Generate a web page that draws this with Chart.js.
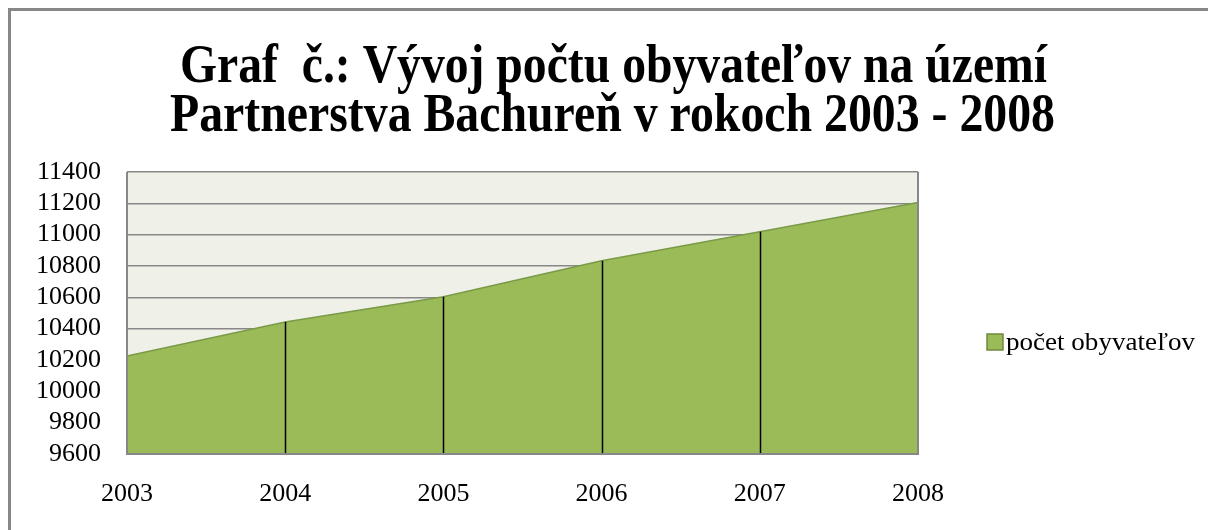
<!DOCTYPE html>
<html>
<head>
<meta charset="utf-8">
<script src="https://cdn.jsdelivr.net/npm/chart.js@4"></script>
<style>
  html, body { margin: 0; padding: 0; background: #fff; }
  #wrap { width: 1208px; height: 530px; position: relative; }
</style>
</head>
<body>
<div id="wrap"><canvas id="myChart" width="1208" height="530"></canvas></div>
<script>
// data
var years = ["2003", "2004", "2005", "2006", "2007", "2008"];
var population = [10225, 10443, 10604, 10833, 11019, 11205];
var seriesName = "počet obyvateľov";
var titleLines = ["Graf  č.: Vývoj počtu obyvateľov na území", "Partnerstva Bachureň v rokoch 2003 - 2008"];

var serif = "'Liberation Serif', 'Times New Roman', serif";

// frame, plot background, drop lines, title and legend
var decor = {
    id: 'decor',
    beforeDraw: function(chart) {
        var c = chart.ctx, a = chart.chartArea;
        c.save();
        c.fillStyle = '#fff';
        c.fillRect(0, 0, chart.width, chart.height);
        c.strokeStyle = '#878787';
        c.lineWidth = 3;
        c.beginPath();
        c.moveTo(9.5, chart.height + 5);
        c.lineTo(9.5, 9.5);
        c.lineTo(chart.width + 5, 9.5);
        c.stroke();
        c.fillStyle = '#eff1e9';
        c.fillRect(a.left, a.top, a.right - a.left, a.bottom - a.top);
        c.restore();
    },
    afterDatasetsDraw: function(chart) {
        var c = chart.ctx, a = chart.chartArea;
        var meta = chart.getDatasetMeta(0);
        c.save();
        c.strokeStyle = '#000';
        c.lineWidth = 1.5;
        meta.data.forEach(function(p, i) {
            if (i === 0 || i === meta.data.length - 1) return;
            c.beginPath();
            c.moveTo(Math.round(p.x) + 0.5, p.y);
            c.lineTo(Math.round(p.x) + 0.5, a.bottom);
            c.stroke();
        });
        // plot frame
        c.strokeStyle = '#878787';
        c.lineWidth = 2;
        c.beginPath();
        c.moveTo(a.left, a.top);
        c.lineTo(a.left, a.bottom);
        c.lineTo(a.right, a.bottom);
        c.lineTo(a.right, a.top);
        c.stroke();
        c.restore();
    },
    afterDraw: function(chart) {
        var c = chart.ctx;
        c.save();
        // title, horizontally condensed like the original
        c.fillStyle = '#000';
        c.font = 'bold 55px ' + serif;
        c.textBaseline = 'alphabetic';
        var targets = [[180, 1047, 82], [170, 1055, 131]];
        titleLines.forEach(function(t, i) {
            var w = c.measureText(t).width;
            var tw = targets[i][1] - targets[i][0];
            c.save();
            c.translate(targets[i][0], targets[i][2]);
            c.scale(tw / w, 1);
            c.fillText(t, 0, 0);
            c.restore();
        });
        // legend
        var ds = chart.data.datasets[0];
        c.fillStyle = ds.backgroundColor;
        c.fillRect(987, 334, 16, 16);
        c.strokeStyle = '#71893f';
        c.lineWidth = 1.5;
        c.strokeRect(987, 334, 16, 16);
        c.fillStyle = '#000';
        c.font = '25px ' + serif;
        c.textBaseline = 'middle';
        var lw = c.measureText(ds.label).width;
        c.save();
        c.translate(1006, 343);
        c.scale(189 / lw, 1);
        c.fillText(ds.label, 0, 0);
        c.restore();
        c.restore();
    }
};

var ctx = document.getElementById("myChart").getContext('2d');
var myChart = new Chart(ctx, {
    type: 'line',
    data: {
        labels: years,
        datasets: [{
            label: seriesName,
            data: population,
            fill: 'start',
            backgroundColor: '#9bbb59',
            borderColor: '#7a9a48',
            borderWidth: 1.5,
            pointRadius: 0,
            tension: 0
        }]
    },
    options: {
        responsive: false,
        animation: false,
        events: [],
        layout: { padding: { left: 10, right: 290, top: 172, bottom: 16 } },
        plugins: {
            legend: { display: false },
            title: { display: false },
            tooltip: { enabled: false }
        },
        scales: {
            x: {
                offset: false,
                grid: { display: false },
                border: { display: false },
                ticks: {
                    color: '#000',
                    font: { family: serif, size: 26 },
                    padding: 17,
                    maxRotation: 0,
                    autoSkip: false
                },
                afterFit: function(s) { s.height = 60; }
            },
            y: {
                min: 9600,
                max: 11400,
                grid: { color: '#878787', lineWidth: 1.5, drawTicks: false },
                border: { display: false },
                ticks: {
                    stepSize: 200,
                    autoSkip: false,
                    color: '#000',
                    font: { family: serif, size: 26 },
                    padding: 26,
                    callback: function(v) { return String(v); }
                },
                afterFit: function(s) { s.width = 117; }
            }
        }
    },
    plugins: [decor]
});
</script>
</body>
</html>
